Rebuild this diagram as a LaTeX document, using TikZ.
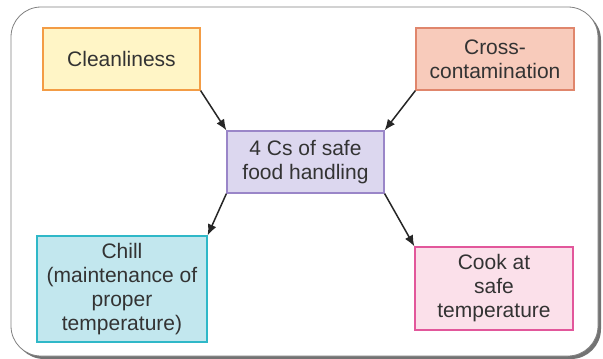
\documentclass[tikz,border=0pt]{standalone}
\usepackage{fontspec}
\setmainfont{Liberation Sans}
\usepackage{tikz}
\usepackage{xcolor}
\usetikzlibrary{arrows.meta}

\definecolor{ink}{HTML}{333333}
\definecolor{cleanfill}{HTML}{FFF5C6}
\definecolor{cleanline}{HTML}{F39C45}
\definecolor{crossfill}{HTML}{F8CBBB}
\definecolor{crossline}{HTML}{E0866C}
\definecolor{corefill}{HTML}{DCD7EF}
\definecolor{coreline}{HTML}{9A86C8}
\definecolor{chillfill}{HTML}{C2E7EE}
\definecolor{chillline}{HTML}{2FB8C8}
\definecolor{cookfill}{HTML}{FBE0EA}
\definecolor{cookline}{HTML}{E2579B}

\tikzset{
  cbox/.style={draw, line width=1.2pt, inner sep=0pt, align=center,
    text=ink, font=\fontsize{21}{24}\selectfont},
  link/.style={draw=black!85, line width=1.5pt,
    -{Latex[length=11pt,width=9pt]}}
}

\begin{document}
\begin{tikzpicture}[x=1pt,y=-1pt]
\useasboundingbox (0,0) rectangle (603,359);

% frame with shadow
\fill[black!55,rounded corners=30pt] (14,10) rectangle (601,359);
\fill[white,draw=black!50,line width=0.8pt,rounded corners=30pt] (11,7) rectangle (598,356);

\node[cbox, fill=cleanfill, draw=cleanline, minimum width=157pt, minimum height=62pt]
  (clean) at (121.5,59) {Cleanliness};
\node[cbox, fill=crossfill, draw=crossline, minimum width=158pt, minimum height=62pt]
  (cross) at (495,59) {Cross-\\contamination};
\node[cbox, fill=corefill, draw=coreline, minimum width=157pt, minimum height=62pt]
  (core) at (305.5,162) {4 Cs of safe\\food handling};
\node[cbox, fill=chillfill, draw=chillline, minimum width=170pt, minimum height=106pt]
  (chill) at (122,289) {Chill\\(maintenance of\\proper\\temperature)};
\node[cbox, fill=cookfill, draw=cookline, minimum width=158pt, minimum height=83pt]
  (cook) at (494,288.5) {Cook at\\safe\\temperature};

\draw[link] (clean.south east) -- (core.north west);
\draw[link] (cross.south west) -- (core.north east);
\draw[link] (core.south west) -- (chill.north east);
\draw[link] (core.south east) -- (cook.north west);
\end{tikzpicture}
\end{document}
